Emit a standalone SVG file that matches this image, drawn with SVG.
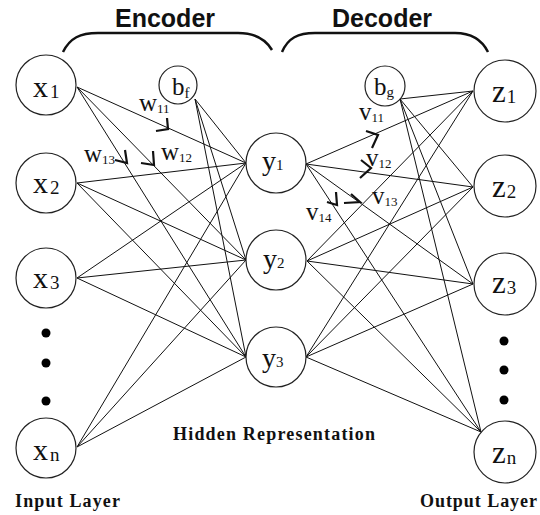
<svg xmlns="http://www.w3.org/2000/svg" width="540" height="515" viewBox="0 0 540 515">
<style>
.node{fill:#fff;stroke:#222;stroke-width:1.2}
.e{stroke:#111;stroke-width:1;fill:none}
.ch{stroke:#111;stroke-width:2.2;fill:none;stroke-linejoin:miter}
.br{stroke:#111;stroke-width:2.5;fill:none}
.t{font-family:"Liberation Serif","Times New Roman",serif;fill:#111}
.hd{font-family:"Liberation Sans",Arial,sans-serif;font-weight:bold;font-size:25px;fill:#111}
.lb{font-family:"Liberation Serif","Times New Roman",serif;font-weight:bold;font-size:18px;fill:#111}
.wv{font-size:25px}
.ws{font-size:13px}
.dot{fill:#000}
</style>
<rect width="540" height="515" fill="#fff"/>
<g id="headers">
<text class="hd" x="115" y="27">Encoder</text>
<text class="hd" x="332" y="27">Decoder</text>
<path class="br" d="M63,52 C70,38 80,33 98,33 L238,33 C256,33 266,40 272,50"/>
<path class="br" d="M282,52 C288,38 298,33 315,33 L455,33 C472,33 482,40 488,52"/>
</g>
<g id="connectors">
<line class="e" x1="77" y1="87" x2="246" y2="163"/>
<line class="e" x1="77" y1="87" x2="246" y2="260"/>
<line class="e" x1="77" y1="87" x2="246" y2="357"/>
<line class="e" x1="77" y1="183" x2="246" y2="163"/>
<line class="e" x1="77" y1="183" x2="246" y2="260"/>
<line class="e" x1="77" y1="183" x2="246" y2="357"/>
<line class="e" x1="77" y1="278" x2="246" y2="163"/>
<line class="e" x1="77" y1="278" x2="246" y2="260"/>
<line class="e" x1="77" y1="278" x2="246" y2="357"/>
<line class="e" x1="77" y1="447" x2="246" y2="163"/>
<line class="e" x1="77" y1="447" x2="246" y2="260"/>
<line class="e" x1="77" y1="447" x2="246" y2="357"/>
<line class="e" x1="195" y1="99" x2="246" y2="163"/>
<line class="e" x1="195" y1="99" x2="246" y2="260"/>
<line class="e" x1="195" y1="99" x2="246" y2="357"/>
<line class="e" x1="306" y1="164" x2="473" y2="91"/>
<line class="e" x1="306" y1="164" x2="473" y2="187"/>
<line class="e" x1="306" y1="164" x2="473" y2="284"/>
<line class="e" x1="306" y1="164" x2="481" y2="432"/>
<line class="e" x1="307" y1="261" x2="473" y2="91"/>
<line class="e" x1="307" y1="261" x2="473" y2="187"/>
<line class="e" x1="307" y1="261" x2="473" y2="284"/>
<line class="e" x1="307" y1="261" x2="481" y2="432"/>
<line class="e" x1="306" y1="357" x2="473" y2="91"/>
<line class="e" x1="306" y1="357" x2="473" y2="187"/>
<line class="e" x1="306" y1="357" x2="473" y2="284"/>
<line class="e" x1="306" y1="357" x2="481" y2="432"/>
<line class="e" x1="400" y1="99" x2="473" y2="91"/>
<line class="e" x1="400" y1="99" x2="473" y2="187"/>
<line class="e" x1="400" y1="99" x2="473" y2="284"/>
<line class="e" x1="400" y1="99" x2="481" y2="432"/>
<polyline class="ch" points="167,118 168,129 156,131"/>
<polyline class="ch" points="125,150 127,163 115,160"/>
<polyline class="ch" points="153,151 154,165 141,163"/>
<polyline class="ch" points="366,131 378,135 372,148"/>
<polyline class="ch" points="361,160 371,168 360,178"/>
<polyline class="ch" points="351,194 360,202 344,203"/>
<polyline class="ch" points="336,192 337,205 327,202"/>
</g>
<g id="weights">
<text class="t wv" x="139" y="111">w<tspan class="ws" dy="2">11</tspan></text>
<text class="t wv" x="84" y="162">w<tspan class="ws" dy="2">13</tspan></text>
<text class="t wv" x="161" y="160">w<tspan class="ws" dy="2">12</tspan></text>
<text class="t wv" x="359" y="120">v<tspan class="ws" dy="2">11</tspan></text>
<text class="t wv" x="366" y="166">v<tspan class="ws" dy="2">12</tspan></text>
<text class="t wv" x="372" y="204">v<tspan class="ws" dy="2">13</tspan></text>
<text class="t wv" x="306" y="220">v<tspan class="ws" dy="2">14</tspan></text>
</g>
<g id="x1"><circle class="node" cx="46" cy="85" r="30"/><text class="t" x="33" y="97" font-size="30">x<tspan font-size="19" dx="2" dy="1">1</tspan></text></g>
<g id="x2"><circle class="node" cx="46" cy="183" r="30"/><text class="t" x="33" y="193" font-size="30">x<tspan font-size="19" dx="2" dy="1">2</tspan></text></g>
<g id="x3"><circle class="node" cx="46" cy="278" r="30"/><text class="t" x="33" y="288" font-size="30">x<tspan font-size="19" dx="2" dy="1">3</tspan></text></g>
<g id="xdots"><circle class="dot" cx="46" cy="333" r="4.5"/><circle class="dot" cx="46" cy="363" r="4.5"/><circle class="dot" cx="46" cy="401" r="4.5"/></g>
<g id="xn"><circle class="node" cx="46" cy="448" r="30"/><text class="t" x="33" y="460" font-size="30">x<tspan font-size="19" dx="2" dy="1">n</tspan></text></g>
<g id="bf"><circle class="node" cx="178" cy="85" r="19"/><text class="t" x="172" y="95" font-size="25">b<tspan font-size="15" dy="3">f</tspan></text></g>
<g id="y1"><circle class="node" cx="276" cy="163" r="30"/><text class="t" x="262" y="170" font-size="28">y<tspan font-size="15">1</tspan></text></g>
<g id="y2"><circle class="node" cx="276" cy="260" r="30"/><text class="t" x="263" y="268" font-size="28">y<tspan font-size="15">2</tspan></text></g>
<g id="y3"><circle class="node" cx="276" cy="357" r="30"/><text class="t" x="262" y="367" font-size="28">y<tspan font-size="15">3</tspan></text></g>
<g id="bg"><circle class="node" cx="385" cy="86" r="20"/><text class="t" x="374" y="95" font-size="25">b<tspan font-size="15" dy="2">g</tspan></text></g>
<g id="z1"><circle class="node" cx="505" cy="91" r="31"/><text class="t" x="492" y="102" font-size="31">z<tspan font-size="19" dx="1" dy="1">1</tspan></text></g>
<g id="z2"><circle class="node" cx="505" cy="186" r="31"/><text class="t" x="492" y="197" font-size="31">z<tspan font-size="19" dx="1" dy="1">2</tspan></text></g>
<g id="z3"><circle class="node" cx="505" cy="284" r="31"/><text class="t" x="492" y="293" font-size="31">z<tspan font-size="19" dx="1" dy="1">3</tspan></text></g>
<g id="zdots"><circle class="dot" cx="504" cy="341" r="4.5"/><circle class="dot" cx="504" cy="370" r="4.5"/><circle class="dot" cx="504" cy="400" r="4.5"/></g>
<g id="zn"><circle class="node" cx="505" cy="452" r="31"/><text class="t" x="492" y="463" font-size="31">z<tspan font-size="19" dx="1" dy="1">n</tspan></text></g>
<g id="labels">
<text class="lb" x="15" y="507" textLength="105">Input Layer</text>
<text class="lb" x="173" y="440" textLength="202">Hidden Representation</text>
<text class="lb" x="420" y="507" textLength="117">Output Layer</text>
</g>
</svg>
